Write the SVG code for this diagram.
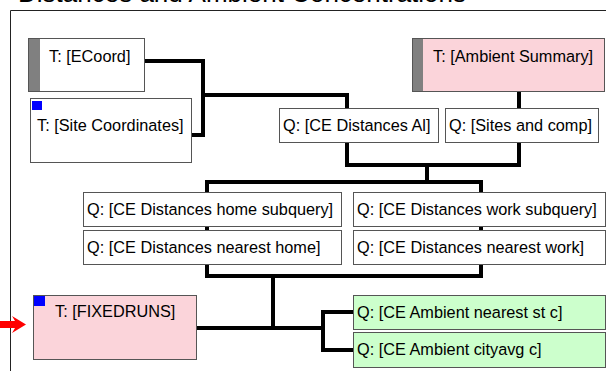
<svg xmlns="http://www.w3.org/2000/svg" width="606" height="371" viewBox="0 0 606 371">
<style>
.box{stroke:#555;stroke-width:1}
.w{fill:#fff}
.p{fill:#fbd4da}
.g{fill:#ccffcc}
.bar{fill:#808080}
.sq{fill:#0000ff}
.t{font-family:"Liberation Sans",Arial,sans-serif;font-size:16.3px;fill:#000}
.c{fill:none;stroke:#000;stroke-width:4;stroke-linejoin:miter}
</style>
<rect width="606" height="371" fill="#fff"/>
<text x="18" y="2" font-family="Liberation Sans, Arial, sans-serif" font-size="26" fill="#000">Distances and Ambient Concentrations</text>
<path d="M10.5 10.5H606M10.5 10.5V371" stroke="#222" stroke-width="1" fill="none"/>
<g id="connectors">
<path class="c" d="M145 61H203V135H192"/>
<path class="c" d="M203 95H347V108"/>
<path class="c" d="M519 92V108"/>
<path class="c" d="M347 142V165H519V142"/>
<path class="c" d="M427 165V182"/>
<path class="c" d="M207 182H481V276H207Z"/>
<path class="c" d="M273 276V328"/>
<path class="c" d="M196 328H323"/>
<path class="c" d="M353 312H323V350H353"/>
</g>
<g id="ecoord">
<rect class="box w" x="28.5" y="38.5" width="116" height="53"/>
<rect class="bar" x="29" y="39" width="11" height="52"/>
<text class="t" x="49" y="62">T: [ECoord]</text>
</g>
<g id="site-coordinates">
<rect class="box w" x="30.5" y="98.5" width="161" height="64"/>
<rect class="sq" x="32" y="101" width="10" height="9"/>
<text class="t" x="37" y="131">T: [Site Coordinates]</text>
</g>
<g id="ambient-summary">
<rect class="box p" x="412.5" y="38.5" width="192" height="53"/>
<rect class="bar" x="413" y="39" width="10" height="52"/>
<text class="t" x="433" y="62">T: [Ambient Summary]</text>
</g>
<g id="ce-distances-ai">
<rect class="box w" x="279.5" y="108.5" width="159" height="34"/>
<text class="t" x="283" y="131">Q: [CE Distances Al]</text>
</g>
<g id="sites-and-comp">
<rect class="box w" x="445.5" y="108.5" width="153" height="34"/>
<text class="t" x="449" y="131">Q: [Sites and comp]</text>
</g>
<g id="home-subquery">
<rect class="box w" x="83.5" y="192.5" width="258" height="34"/>
<text class="t" x="87" y="215">Q: [CE Distances home subquery]</text>
</g>
<g id="nearest-home">
<rect class="box w" x="83.5" y="230.5" width="258" height="34"/>
<text class="t" x="87" y="253">Q: [CE Distances nearest home]</text>
</g>
<g id="work-subquery">
<rect class="box w" x="353.5" y="192.5" width="252" height="34"/>
<text class="t" x="357" y="215">Q: [CE Distances work subquery]</text>
</g>
<g id="nearest-work">
<rect class="box w" x="353.5" y="230.5" width="252" height="34"/>
<text class="t" x="357" y="253">Q: [CE Distances nearest work]</text>
</g>
<g id="fixedruns">
<rect class="box p" x="33.5" y="295.5" width="163" height="64"/>
<rect class="sq" x="34" y="296" width="11" height="10"/>
<text class="t" x="55" y="317">T: [FIXEDRUNS]</text>
<polygon points="0,321 15,321 12,316 26,324.5 12,333 15,328 0,328" fill="#ff0000"/>
</g>
<g id="ambient-nearest">
<rect class="box g" x="353.5" y="295.5" width="252" height="34"/>
<text class="t" x="357" y="318">Q: [CE Ambient nearest st c]</text>
</g>
<g id="ambient-cityavg">
<rect class="box g" x="353.5" y="332.5" width="252" height="35"/>
<text class="t" x="357" y="355">Q: [CE Ambient cityavg c]</text>
</g>
</svg>
